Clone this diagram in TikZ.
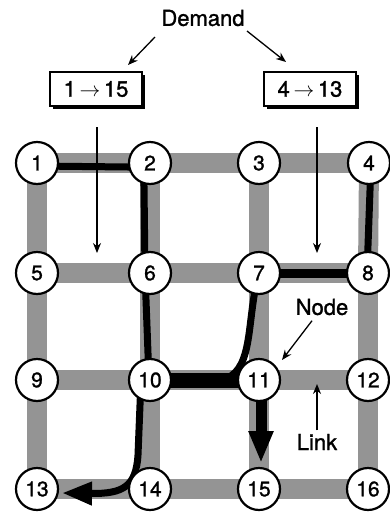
\documentclass[tikz,border=0pt]{standalone}
\usepackage{fontspec}
\setmainfont{TeX Gyre Heros}[FakeBold=1.2]
\usetikzlibrary{arrows.meta,shadows}

\tikzset{
  netnode/.style={circle, draw=black, line width=2.2pt, fill=white,
    minimum size=42pt, inner sep=0pt, font=\fontsize{21}{24}\selectfont},
  linkbar/.style={line width=20pt, draw=black!42},
  flow/.style={line width=7pt, draw=black, line cap=round, line join=round},
  demandbox/.style={draw=black, line width=2.2pt, fill=white, minimum width=92pt,
    minimum height=34pt, font=\fontsize{22}{26}\selectfont,
    drop shadow={shadow xshift=3pt, shadow yshift=-3pt, opacity=1, fill=black}},
  pointer/.style={line width=1.3pt, -{Stealth[length=10pt, width=8pt]}},
  caption/.style={font=\fontsize{22}{26}\selectfont}
}

\begin{document}
\begin{tikzpicture}[x=1pt, y=-1pt]
\useasboundingbox (0,0) rectangle (390,512);

% grid node positions
\foreach \n/\x/\y in {1/37/163, 2/150/163, 3/259/163, 4/369/163,
                      5/37/273, 6/150/273, 7/259/273, 8/368/273,
                      9/37/380, 10/150/380, 11/259/380, 12/368/380,
                      13/37/489, 14/150/489, 15/259/489, 16/368/489}
  \coordinate (p\n) at (\x,\y);

% gray links
\foreach \a/\b in {1/2, 2/3, 3/4, 5/6, 6/7, 7/8, 9/10, 10/11, 11/12, 13/14, 14/15, 15/16,
                   1/5, 5/9, 9/13, 2/6, 6/10, 10/14, 3/7, 7/11, 11/15, 4/8, 8/12, 12/16}
  \draw[linkbar] (p\a) -- (p\b);

% flow 1 -> 15
\draw[flow] (p1) ++(0,3) -- (128,167) .. controls (141,168) and (144,172) .. (144,186)
  -- (145,273) -- (149,380);
\draw[line width=15pt, draw=black] (p10) -- (p11);
\coordinate (t15) at (261,463);
\draw[line width=11pt, -{Triangle[length=32pt, width=23pt]}] (261,380) -- (t15);

% flow 4 -> 13
\draw[flow] (p4) ++(2,0) -- (367,273);
\draw[line width=9pt] (p8) -- (p7);
\draw[flow] (256,285) .. controls (247,330) and (252,372) .. (222,380);
\coordinate (t13) at (62,493);
\draw[flow, -{Triangle[length=30pt, width=22pt]}] (141,380) -- (138,455)
  .. controls (136,486) and (124,494) .. (t13);

% demand boxes and their caption
\node[demandbox] (b1) at (96,89) {1\,$\rightarrow$\,15};
\node[demandbox] (b2) at (310,89) {4\,$\rightarrow$\,13};
\node[caption] (dem) at (203,18) {Demand};
\coordinate (d1s) at (155,37);
\coordinate (d1e) at (128,65);
\coordinate (d2s) at (247,31);
\coordinate (d2e) at (286,62);
\draw[pointer] (d1s) -- (d1e);
\draw[pointer] (d2s) -- (d2e);

% thin demand arrows into the grid
\coordinate (a1) at (97,253);
\coordinate (a2) at (317,253);
\draw[pointer] ([yshift=-20pt]b1.south -| a1) -- (a1);
\draw[pointer] ([yshift=-20pt]b2.south -| a2) -- (a2);

% grid nodes
\foreach \n in {1,...,16}
  \node[netnode] (n\n) at (p\n) {\n};

% annotations
\node[caption] (nodelbl) at (322,307) {Node};
\coordinate (nodetip) at (282,360);
\draw[pointer] ([xshift=-10pt,yshift=-2pt]nodelbl.south) -- (nodetip);
\node[caption] (linklbl) at (317,442) {Link};
\coordinate (linktip) at (317,384);
\draw[pointer] (linklbl.north) -- (linktip);
\end{tikzpicture}
\end{document}
